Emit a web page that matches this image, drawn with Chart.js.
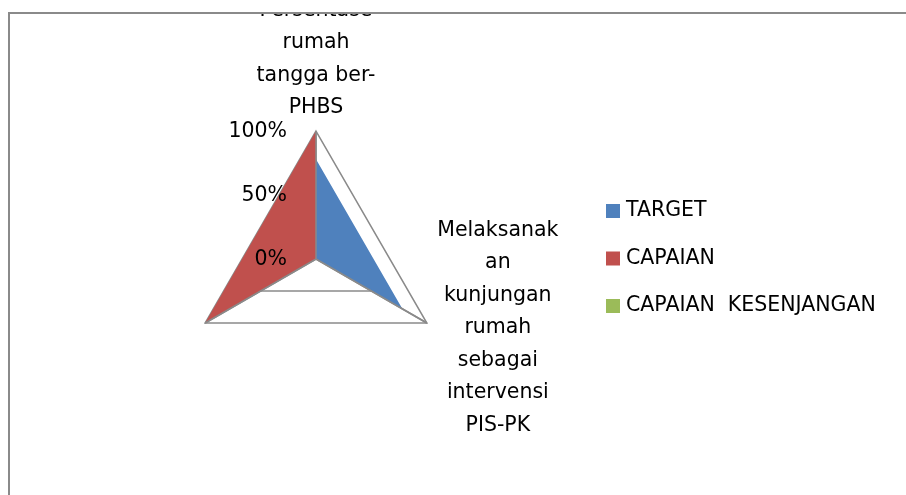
<!DOCTYPE html>
<html>
<head>
<meta charset="utf-8">
<script src="https://cdn.jsdelivr.net/npm/chart.js@4"></script>
<style>
  html, body { margin: 0; padding: 0; background: #fff; }
  canvas { display: block; }
</style>
</head>
<body>
<canvas id="radarChart" width="906" height="495"></canvas>
<script>
// categories (top, bottom-right, bottom-left), one line of text per entry
const categories = [
  ['Persentase', 'rumah', 'tangga ber-', 'PHBS'],
  ['Melaksanak', 'an', 'kunjungan', 'rumah', 'sebagai', 'intervensi', 'PIS-PK'],
  [''],
];
const seriesNames = ['TARGET', 'CAPAIAN', 'CAPAIAN  KESENJANGAN'];
const targetValues = [78, 78, 0];
const capaianValues = [100, 0, 100];
const kesenjanganValues = [0, 0, 0];
const tickValues = [0, 50, 100];

const FONT = '20.5px "DejaVu Sans"';
const LINE = '#8a8a8a';
const colors = ['#4f81bd', '#c0504d', '#9bbb59'];

function makeDataset(label, data, color) {
  return {
    label,
    data,
    backgroundColor: color,
    borderWidth: 0,
    pointRadius: 0,
    fill: true,
  };
}

// spokes sit above the filled areas, like the original
const spokesOnTop = {
  id: 'spokesOnTop',
  afterDatasetsDraw(chart) {
    const scale = chart.scales.r;
    const { ctx } = chart;
    ctx.save();
    ctx.strokeStyle = LINE;
    ctx.lineWidth = 1.5;
    categories.forEach((c, i) => {
      const p = scale.getPointPosition(i, scale.drawingArea);
      ctx.beginPath();
      ctx.moveTo(scale.xCenter, scale.yCenter);
      ctx.lineTo(p.x, p.y);
      ctx.stroke();
    });
    ctx.restore();
  },
};

const labelsAndLegend = {
  id: 'labelsAndLegend',
  afterDraw(chart) {
    const scale = chart.scales.r;
    const { ctx } = chart;
    ctx.save();
    ctx.font = FONT;
    ctx.fillStyle = '#000';
    ctx.textBaseline = 'middle';

    // tick labels, right aligned left of the top spoke
    ctx.textAlign = 'right';
    tickValues.forEach((v) => {
      const y = scale.yCenter - scale.getDistanceFromCenterForValue(v);
      ctx.fillText(`${v}%`, scale.xCenter - 29, y + 1);
    });

    // point labels
    ctx.textAlign = 'center';
    const lh = 32.5;
    const top = scale.getPointPosition(0, scale.drawingArea);
    categories[0].forEach((line, j) => {
      const n = categories[0].length;
      ctx.fillText(line, top.x, top.y - 23 - (n - 1 - j) * lh);
    });
    const right = scale.getPointPosition(1, scale.drawingArea);
    const n1 = categories[1].length;
    categories[1].forEach((line, j) => {
      ctx.fillText(line, right.x + 71, right.y + 5 + (j - (n1 - 1) / 2) * lh);
    });

    // legend
    ctx.textAlign = 'left';
    chart.data.datasets.forEach((ds, i) => {
      const y = 211 + i * 47.5;
      ctx.fillStyle = ds.backgroundColor;
      ctx.fillRect(606, y - 7, 14, 14);
      ctx.fillStyle = '#000';
      ctx.fillText(ds.label, 626, y);
    });

    // cropped top edge and the chart frame
    ctx.fillStyle = '#fff';
    ctx.fillRect(0, 0, chart.width, 12);
    ctx.strokeStyle = '#8a8a8a';
    ctx.lineWidth = 2;
    ctx.beginPath();
    ctx.moveTo(9, chart.height);
    ctx.lineTo(9, 13);
    ctx.lineTo(chart.width, 13);
    ctx.stroke();
    ctx.restore();
  },
};

new Chart(document.getElementById('radarChart'), {
  type: 'radar',
  data: {
    labels: categories,
    datasets: [
      makeDataset(seriesNames[0], targetValues, colors[0]),
      makeDataset(seriesNames[1], capaianValues, colors[1]),
      makeDataset(seriesNames[2], kesenjanganValues, colors[2]),
    ],
  },
  options: {
    responsive: false,
    animation: false,
    devicePixelRatio: 1,
    layout: { padding: { left: 188, right: 462, top: 131, bottom: 108 } },
    plugins: { legend: { display: false }, tooltip: { enabled: false } },
    scales: {
      r: {
        min: 0,
        max: 100,
        ticks: { display: false, stepSize: 50 },
        pointLabels: { display: false },
        grid: { color: LINE, lineWidth: 1.5 },
        angleLines: { color: LINE, lineWidth: 1.5 },
      },
    },
  },
  plugins: [spokesOnTop, labelsAndLegend],
});
</script>
</body>
</html>
